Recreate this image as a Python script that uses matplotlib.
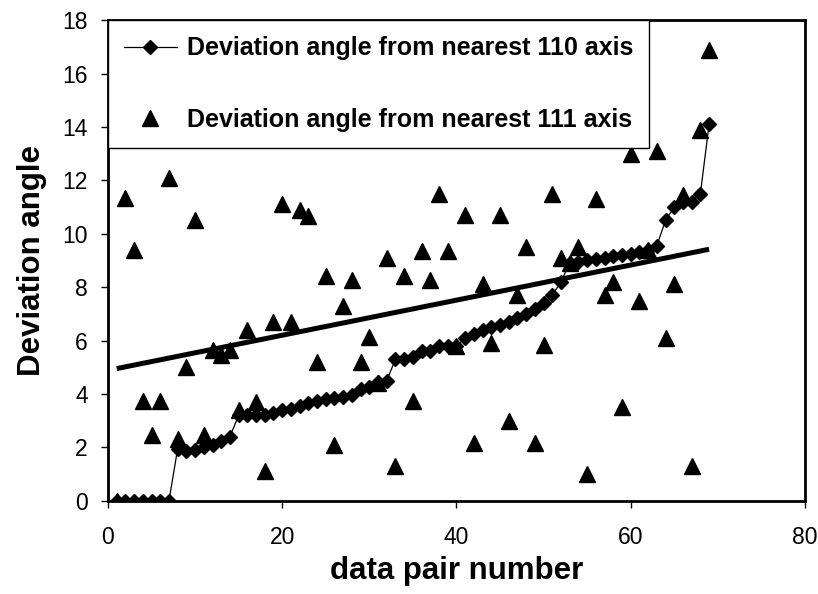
import numpy as np
import matplotlib
matplotlib.use("Agg")
import matplotlib.pyplot as plt

plt.rcParams['font.family'] = ['Liberation Sans', 'DejaVu Sans']

pair_number = list(range(1, 70))

dev_110 = [0, 0, 0, 0, 0, 0, 0, 1.95, 1.85, 1.9,
           2.0, 2.1, 2.25, 2.4, 3.2, 3.2, 3.2, 3.2, 3.3, 3.4,
           3.45, 3.55, 3.65, 3.75, 3.8, 3.85, 3.9, 3.95, 4.2, 4.25,
           4.45, 4.5, 5.3, 5.3, 5.4, 5.6, 5.6, 5.8, 5.8, 5.8,
           6.1, 6.25, 6.4, 6.5, 6.6, 6.7, 6.85, 7.0, 7.2, 7.4,
           7.7, 8.2, 8.9, 8.95, 9.0, 9.05, 9.1, 9.15, 9.2, 9.25,
           9.3, 9.4, 9.55, 10.5, 11.0, 11.2, 11.2, 11.5, 14.1]

dev_111 = [0, 11.35, 9.4, 3.75, 2.45, 3.75, 12.1, 2.3, 5.0, 10.5,
           2.45, 5.65, 5.45, 5.65, 3.4, 6.4, 3.7, 1.1, 6.7, 11.1,
           6.7, 10.9, 10.65, 5.2, 8.4, 2.1, 7.3, 8.25, 5.2, 6.15,
           4.4, 9.1, 1.3, 8.4, 3.75, 9.35, 8.25, 11.5, 9.35, 5.8,
           10.7, 2.15, 8.1, 5.9, 10.7, 3.0, 7.7, 9.5, 2.15, 5.85,
           11.5, 9.1, 8.9, 9.5, 1.0, 11.3, 7.7, 8.2, 3.5, 13.0,
           7.5, 9.4, 13.1, 6.1, 8.1, 11.45, 1.3, 13.9, 16.9]

# linear trend line of the 111 series
trend_x = [1, 69]
trend_y = [4.95, 9.42]

label_110 = "Deviation angle from nearest 110 axis"
label_111 = "Deviation angle from nearest 111 axis"

fig = plt.figure(figsize=(8.18, 5.94), dpi=100)
ax = fig.add_axes([0.132, 0.157, 0.852, 0.809])

ax.plot(pair_number, dev_111, linestyle='none', marker='^', markersize=11,
        color='black', label=label_111, zorder=3)
ax.plot(pair_number, dev_110, linestyle='-', linewidth=0.9, marker='D',
        markersize=7, color='black', label=label_110, zorder=4)
ax.plot(trend_x, trend_y, color='black', linewidth=3.6, zorder=2,
        solid_capstyle='butt')

ax.set_xlim(0, 80)
ax.set_ylim(0, 18)
ax.set_xticks([0, 20, 40, 60, 80])
ax.set_yticks(range(0, 19, 2))
ax.tick_params(direction='out', length=5, width=1, labelsize=16.5)
ax.tick_params(axis='x', pad=13)
ax.tick_params(axis='y', pad=9.5)
for s in ax.spines.values():
    s.set_linewidth(2.0)

ax.set_xlabel("data pair number", fontsize=22.5, fontweight='bold', labelpad=5)
ax.set_ylabel("Deviation angle", fontsize=22.5, fontweight='bold', labelpad=11)

handles, labels = ax.get_legend_handles_labels()
leg = ax.legend(handles[::-1], labels[::-1], loc='upper left',
                bbox_to_anchor=(0, 1), borderaxespad=0, frameon=True,
                fancybox=False, edgecolor='black', framealpha=1,
                prop={'weight': 'bold', 'size': 18}, labelspacing=1.9,
                handlelength=2.1, borderpad=0.65, handletextpad=0.4)
leg.get_frame().set_linewidth(1.0)

fig.savefig("out.png", dpi=100)
